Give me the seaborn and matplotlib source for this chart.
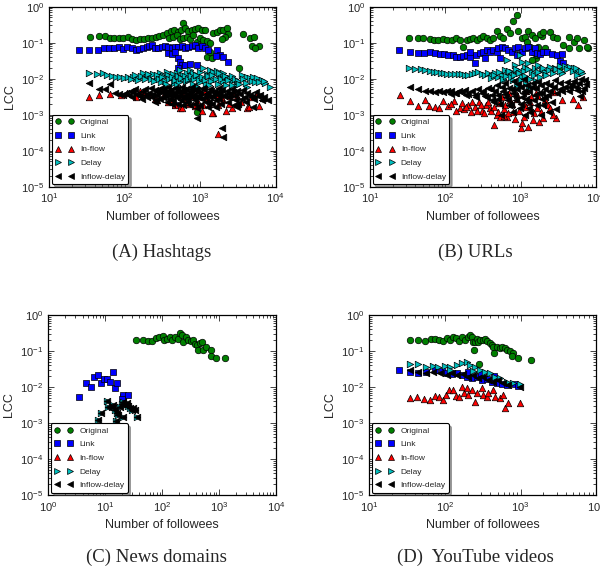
import matplotlib
matplotlib.use("Agg")
import pandas as pd
import seaborn as sns
import matplotlib.pyplot as plt
from matplotlib.lines import Line2D

sns.set_style("ticks")
plt.rcParams["font.family"] = ["Liberation Sans", "DejaVu Sans"]
plt.rcParams["mathtext.fontset"] = "cm"
plt.rcParams["mathtext.default"] = "rm"

#DATA (followees, LCC)
models = ["Original", "Link", "In-flow", "Delay", "Inflow-delay"]
captions = ["(A) Hashtags", "(B) URLs", "(C) News domains", "(D)  YouTube videos"]

#(A) Hashtags
hashtags_original = [(35, 0.144), (45, 0.150), (55, 0.153), (64, 0.132), (73, 0.132), (84, 0.132), (96, 0.132),
    (112, 0.141), (124, 0.127), (141, 0.119), (160, 0.124), (182, 0.127), (206, 0.132), (228, 0.138), (260, 0.147),
    (288, 0.157), (325, 0.164), (360, 0.182), (407, 0.211), (451, 0.225), (505, 0.202), (558, 0.225), (588, 0.345),
    (631, 0.251), (699, 0.211), (773, 0.225), (856, 0.240), (948, 0.262), (1050, 0.225), (1162, 0.225), (391, 0.132),
    (442, 0.147), (489, 0.164), (542, 0.127), (600, 0.138), (664, 0.147), (735, 0.127), (813, 0.164), (901, 0.107),
    (1000, 0.132), (1105, 0.119), (1223, 0.111), (1354, 0.096), (1500, 0.182), (1661, 0.202), (1838, 0.225),
    (2034, 0.225), (2250, 0.251), (2370, 0.171), (2140, 0.147), (1933, 0.127), (1223, 0.041), (1426, 0.037),
    (1354, 0.056), (3300, 0.020), (3670, 0.171), (4500, 0.138), (5190, 0.147), (4830, 0.083), (6100, 0.083),
    (5350, 0.070), (900, 0.00116)]
hashtags_link = [(25, 0.0626), (34, 0.0626), (44, 0.064), (53, 0.0697), (62, 0.0697), (73, 0.0697), (85, 0.0743),
    (96, 0.0655), (108, 0.0743), (124, 0.0697), (141, 0.064), (156, 0.0655), (177, 0.0697), (196, 0.0743),
    (212, 0.0827), (228, 0.0863), (252, 0.0727), (279, 0.0697), (309, 0.0743), (343, 0.0827), (379, 0.0776),
    (420, 0.0697), (465, 0.0776), (515, 0.0743), (570, 0.0827), (631, 0.0697), (698, 0.0743), (773, 0.0827),
    (855, 0.0863), (948, 0.0697), (1050, 0.0827), (1161, 0.0697), (1285, 0.064), (379, 0.0507), (420, 0.0475),
    (465, 0.054), (515, 0.0368), (541, 0.0297), (570, 0.024), (631, 0.024), (735, 0.0251), (901, 0.024),
    (515, 0.0194), (1660, 0.0626), (1837, 0.0455), (2033, 0.041), (2370, 0.0297), (1625, 0.0436), (465, 0.0018)]
hashtags_inflow = [(34, 0.0030), (45, 0.0035), (64, 0.0037), (88, 0.0035), (106, 0.0039), (160, 0.0044),
    (217, 0.0035), (294, 0.0049), (325, 0.0032), (399, 0.0039), (542, 0.0015), (600, 0.0035), (735, 0.0032),
    (948, 0.0049), (1223, 0.0029), (1500, 0.0011), (1660, 0.0035), (2034, 0.0026), (2624, 0.0015), (3055, 0.0032),
    (4150, 0.0015), (5625, 0.0039), (6890, 0.0029), (1745, 0.00029), (465, 0.0018), (575, 0.0015), (1440, 0.0011),
    (4370, 0.0016), (250, 0.0028), (700, 0.0020), (1100, 0.0018), (900, 0.0025), (380, 0.0023), (2400, 0.0020),
    (140, 0.0030), (180, 0.0040), (270, 0.0025), (350, 0.0042), (430, 0.0026), (520, 0.0047), (650, 0.0022),
    (780, 0.0038), (850, 0.0017), (1000, 0.0033), (1150, 0.0042), (1300, 0.0020), (1900, 0.0030), (2200, 0.0013),
    (2800, 0.0040), (3500, 0.0022), (4700, 0.0030), (6000, 0.0017), (1050, 0.0013), (600, 0.0028), (1700, 0.0018),
    (2500, 0.0033)]
hashtags_delay = [(34, 0.0141), (42.5, 0.0132), (51, 0.0141), (59, 0.0127), (67, 0.0119), (77, 0.0114), (87, 0.0109),
    (98, 0.0102), (112, 0.0109), (128, 0.0114), (141, 0.0107), (156, 0.0102), (177, 0.0141), (196, 0.0114),
    (217, 0.0127), (240, 0.0132), (266, 0.0114), (294, 0.0141), (325, 0.0121), (360, 0.0150), (399, 0.0114),
    (442, 0.0132), (489, 0.0141), (542, 0.0175), (600, 0.0127), (664, 0.0141), (735, 0.0175), (813, 0.0141),
    (901, 0.0114), (998, 0.0157), (1105, 0.0194), (1223, 0.0132), (1354, 0.0175), (1500, 0.0150), (1660, 0.0164),
    (1838, 0.0121), (2034, 0.0141), (2250, 0.0114), (2493, 0.0102), (2760, 0.0092), (3055, 0.0083), (3560, 0.0127),
    (4150, 0.0114), (4590, 0.0107), (5080, 0.0114), (5625, 0.0102), (6560, 0.0092), (7260, 0.0074), (8460, 0.0060),
    (2624, 0.0067), (3055, 0.0067), (4150, 0.0060), (300, 0.0080), (450, 0.0075), (700, 0.0090), (1000, 0.0080),
    (1500, 0.0090), (2000, 0.0085), (600, 0.0095), (1200, 0.0070),
    (120, 0.0095), (135, 0.0125), (150, 0.0090), (165, 0.0118), (185, 0.0098), (205, 0.0135), (225, 0.0100),
    (245, 0.0088), (270, 0.0128), (285, 0.0095), (310, 0.0108), (340, 0.0085), (370, 0.0125), (390, 0.0095),
    (420, 0.0110), (470, 0.0090), (510, 0.0120), (530, 0.0080), (560, 0.0105), (620, 0.0115), (650, 0.0085),
    (690, 0.0100), (760, 0.0120), (840, 0.0095), (880, 0.0130), (950, 0.0090), (1050, 0.0110), (1150, 0.0092),
    (1280, 0.0115), (1400, 0.0085), (1450, 0.0125), (1600, 0.0098), (1750, 0.0140), (1900, 0.0100), (2100, 0.0115),
    (2300, 0.0090), (2600, 0.0118), (2900, 0.0100), (3200, 0.0088), (3700, 0.0100), (4000, 0.0078), (4800, 0.0088),
    (5400, 0.0080), (6000, 0.0082), (7000, 0.0085), (800, 0.0070), (1300, 0.0065), (1700, 0.0072), (2200, 0.0068),
    (3300, 0.0070), (500, 0.0065), (350, 0.0072), (900, 0.0060)]
hashtags_inflow_delay = [(34, 0.0074), (45, 0.0052), (55, 0.0050), (64, 0.0070), (75, 0.0040), (85, 0.0038),
    (95, 0.0036), (105, 0.0040), (115, 0.0034), (130, 0.0042), (145, 0.0038), (160, 0.0032), (175, 0.0045),
    (190, 0.0036), (210, 0.0040), (230, 0.0030), (250, 0.0048), (270, 0.0035), (290, 0.0027), (310, 0.0042),
    (330, 0.0050), (350, 0.0033), (380, 0.0045), (400, 0.0028), (430, 0.0038), (460, 0.0055), (490, 0.0030),
    (520, 0.0042), (550, 0.0025), (590, 0.0048), (630, 0.0033), (670, 0.0022), (710, 0.0040), (760, 0.0050),
    (800, 0.0030), (860, 0.0020), (910, 0.0045), (970, 0.0035), (1050, 0.0028), (1120, 0.0050), (1200, 0.0038),
    (1300, 0.0023), (1400, 0.0045), (1500, 0.0032), (1650, 0.0040), (1800, 0.0027), (1950, 0.0048), (2150, 0.0035),
    (2400, 0.0030), (2700, 0.0042), (3000, 0.0025), (3400, 0.0038), (3900, 0.0030), (4500, 0.0035), (5100, 0.0028),
    (5800, 0.0032), (6600, 0.0025), (7900, 0.0026), (910, 0.00081), (1950, 0.00043), (2000, 0.00024),
    (5000, 0.0016), (3090, 0.0016), (600, 0.0018), (1250, 0.0016), (420, 0.0020), (250, 0.0022),
    (120, 0.0045), (125, 0.0030), (138, 0.0052), (150, 0.0035), (168, 0.0028), (185, 0.0050), (200, 0.0030),
    (220, 0.0055), (240, 0.0038), (260, 0.0025), (280, 0.0045), (300, 0.0055), (320, 0.0030), (340, 0.0040),
    (360, 0.0022), (370, 0.0058), (390, 0.0035), (410, 0.0048), (440, 0.0026), (450, 0.0040), (470, 0.0032),
    (500, 0.0050), (510, 0.0020), (540, 0.0036), (570, 0.0058), (600, 0.0030), (610, 0.0042), (650, 0.0052),
    (680, 0.0028), (700, 0.0036), (730, 0.0018), (750, 0.0045), (780, 0.0060), (820, 0.0035), (850, 0.0026),
    (880, 0.0050), (940, 0.0030), (1000, 0.0042), (1000, 0.0019), (1080, 0.0055), (1150, 0.0030), (1180, 0.0022),
    (1250, 0.0040), (1350, 0.0050), (1350, 0.0030), (1450, 0.0020), (1550, 0.0045), (1600, 0.0025), (1700, 0.0035),
    (1750, 0.0055), (1850, 0.0040), (1900, 0.0020), (2050, 0.0032), (2250, 0.0045), (2300, 0.0022), (2500, 0.0038),
    (2600, 0.0050), (2850, 0.0032), (3100, 0.0045), (3200, 0.0020), (3600, 0.0028), (3700, 0.0048), (4200, 0.0040),
    (4800, 0.0030), (5500, 0.0042), (6200, 0.0035), (7000, 0.0030), (4000, 0.0022), (2800, 0.0018), (900, 0.0015),
    (1600, 0.0016)]

#(B) URLs
urls_original = [(33, 0.132), (43, 0.132), (51, 0.138), (62, 0.127), (71, 0.121), (81, 0.121), (93, 0.127),
    (107, 0.121), (122, 0.121), (139, 0.132), (157, 0.121), (174, 0.078), (193, 0.119), (214, 0.127), (237, 0.132),
    (262, 0.121), (290, 0.132), (321, 0.157), (356, 0.132), (394, 0.121), (436, 0.132), (483, 0.211), (535, 0.157),
    (593, 0.132), (656, 0.240), (727, 0.182), (805, 0.409), (892, 0.587), (939, 0.211), (1040, 0.132), (1152, 0.147),
    (1275, 0.211), (1412, 0.164), (1564, 0.132), (1731, 0.078), (1918, 0.157), (2124, 0.073), (1212, 0.107),
    (1342, 0.078), (1486, 0.056), (1597, 0.037), (1645, 0.046), (1822, 0.171), (2018, 0.203), (2475, 0.203),
    (2687, 0.147), (3036, 0.132), (3725, 0.086), (4477, 0.141), (5166, 0.107), (5600, 0.132), (7015, 0.119),
    (8005, 0.070), (4477, 0.073), (6076, 0.070), (7609, 0.076), (3297, 0.020), (1412, 0.033)]
urls_link = [(24, 0.0626), (34, 0.054), (43, 0.0507), (52, 0.0507), (63, 0.054), (73, 0.0507), (85, 0.0475),
    (96, 0.0475), (110, 0.0455), (126, 0.0455), (139, 0.041), (157, 0.041), (174, 0.043), (193, 0.0455),
    (214, 0.041), (249, 0.0267), (257, 0.0455), (290, 0.0507), (321, 0.0564), (356, 0.0626), (394, 0.0564),
    (436, 0.0626), (483, 0.0564), (535, 0.0368), (509, 0.0697), (564, 0.0776), (624, 0.0727), (691, 0.0626),
    (766, 0.0564), (848, 0.0697), (939, 0.0776), (1040, 0.0564), (1152, 0.0697), (1275, 0.0776), (1412, 0.0564),
    (1564, 0.0697), (1645, 0.0507), (1822, 0.0475), (2018, 0.0564), (2234, 0.0564), (2606, 0.0475), (3036, 0.0455),
    (3541, 0.0475), (214, 0.0564), (338, 0.0384), (892, 0.0455), (3365, 0.031), (3725, 0.0267)]
urls_inflow = [(25, 0.0034), (34, 0.0024), (43, 0.0017), (53, 0.0026), (61, 0.0017), (73, 0.0016), (83, 0.0015),
    (94, 0.0024), (110, 0.0017), (131, 0.0024), (155, 0.0015), (179, 0.0014), (200, 0.0018), (220, 0.0012),
    (250, 0.0016), (280, 0.0022), (310, 0.0013), (350, 0.0019), (390, 0.0015), (447, 0.00051), (480, 0.00096),
    (520, 0.0021), (560, 0.0030), (600, 0.0014), (660, 0.00088), (720, 0.0025), (800, 0.0012), (900, 0.0035),
    (1000, 0.00042), (1050, 0.00058), (1100, 0.0020), (1260, 0.00046), (1400, 0.0030), (1500, 0.0011),
    (1780, 0.00063), (2000, 0.00079), (2300, 0.0018), (2750, 0.0043), (3000, 0.00079), (3540, 0.0026),
    (5000, 0.0028), (5900, 0.0018), (6700, 0.0030), (700, 0.0040), (1200, 0.0045), (1600, 0.0040),
    (120, 0.0020), (140, 0.0013), (165, 0.0021), (190, 0.0016), (230, 0.0022), (265, 0.0013), (300, 0.0018),
    (330, 0.0011), (370, 0.0022), (410, 0.0013), (440, 0.0016), (500, 0.0012), (540, 0.00085), (620, 0.0018),
    (680, 0.0011), (760, 0.0020), (850, 0.00075), (950, 0.0013), (1100, 0.00085), (1200, 0.0016), (1350, 0.0022),
    (1450, 0.00070), (1650, 0.0015), (1900, 0.0012), (2100, 0.0025), (2500, 0.0015), (2700, 0.00095), (900, 0.0028),
    (1700, 0.0033), (600, 0.0009)]
urls_delay = [(33, 0.0194), (40, 0.0186), (47, 0.0186), (54, 0.0175), (62, 0.0164), (70, 0.0157), (77, 0.0157),
    (87, 0.0147), (96, 0.0141), (107, 0.0135), (118, 0.0135), (135, 0.0135), (150, 0.0132), (166, 0.0132),
    (183, 0.0127), (203, 0.0127), (225, 0.0135), (249, 0.0141), (276, 0.0157), (305, 0.0132), (338, 0.0127),
    (375, 0.0141), (415, 0.0119), (460, 0.0141), (509, 0.0114), (564, 0.0127), (624, 0.0175), (691, 0.0141),
    (766, 0.0157), (848, 0.024), (939, 0.0175), (1040, 0.0297), (1152, 0.0216), (1275, 0.0267), (1412, 0.0157),
    (1564, 0.0194), (1731, 0.024), (1918, 0.0175), (2124, 0.0157), (2475, 0.0216), (2885, 0.0202), (3365, 0.023),
    (3916, 0.0225), (4571, 0.0216), (5166, 0.0202), (5890, 0.0175), (6530, 0.0141), (3541, 0.0141), (5600, 0.0127),
    (593, 0.0092), (805, 0.0092), (1040, 0.0114), (656, 0.0331), (988, 0.0455),
    (400, 0.0105), (450, 0.0125), (520, 0.0150), (580, 0.0100), (650, 0.0120), (700, 0.0160), (750, 0.0110),
    (820, 0.0130), (870, 0.0180), (950, 0.0140), (1000, 0.0090), (1100, 0.0160), (1150, 0.0120), (1200, 0.0070),
    (1250, 0.0190), (1350, 0.0100), (1400, 0.0060), (1500, 0.0130), (1600, 0.0085), (1700, 0.0150), (1800, 0.0110),
    (2000, 0.0200), (2200, 0.0130), (2400, 0.0170), (2700, 0.0140), (3000, 0.0180), (3300, 0.0160), (4200, 0.0180),
    (5000, 0.0160), (5500, 0.0200), (6300, 0.0160), (1300, 0.0050), (900, 0.0065)]
urls_inflow_delay = [(34, 0.0057), (44, 0.0050), (54, 0.0046), (62, 0.0044), (72, 0.0043), (82, 0.0044),
    (93, 0.0042), (105, 0.0044), (118, 0.0046), (133, 0.0040), (150, 0.0045), (166, 0.0042), (183, 0.0048),
    (203, 0.0038), (225, 0.0044), (250, 0.0036), (275, 0.0050), (305, 0.0040), (338, 0.0032), (375, 0.0055),
    (415, 0.0035), (460, 0.0045), (509, 0.0028), (564, 0.0060), (624, 0.0038), (690, 0.0025), (766, 0.0052),
    (848, 0.0033), (939, 0.0070), (1040, 0.0030), (1150, 0.0045), (1275, 0.0022), (1410, 0.0058), (1560, 0.0035),
    (1730, 0.0080), (1920, 0.0040), (2120, 0.0030), (2470, 0.0065), (2880, 0.0090), (3000, 0.0014), (3370, 0.0050),
    (3900, 0.0060), (4560, 0.0060), (5170, 0.0085), (5600, 0.0048), (6300, 0.0095), (6970, 0.0054), (7500, 0.0070),
    (700, 0.0018), (1000, 0.0020), (1300, 0.0015), (450, 0.0022), (2000, 0.0018), (6200, 0.0032),
    (320, 0.0045), (360, 0.0030), (400, 0.0050), (420, 0.0025), (480, 0.0065), (500, 0.0035), (540, 0.0020),
    (580, 0.0045), (620, 0.0075), (650, 0.0030), (700, 0.0055), (740, 0.0018), (800, 0.0040), (820, 0.0085),
    (870, 0.0025), (900, 0.0050), (980, 0.0015), (1000, 0.0060), (1080, 0.0040), (1100, 0.0095), (1180, 0.0028),
    (1220, 0.0065), (1300, 0.0045), (1350, 0.0012), (1450, 0.0075), (1500, 0.0025), (1600, 0.0055), (1650, 0.0018),
    (1750, 0.0040), (1850, 0.0065), (1950, 0.0028), (2100, 0.0050), (2200, 0.0075), (2300, 0.0035), (2500, 0.0045),
    (2600, 0.0022), (2750, 0.0060), (3100, 0.0040), (3300, 0.0075), (3600, 0.0045), (4100, 0.0080), (4400, 0.0045),
    (4900, 0.0070), (5400, 0.0060), (6000, 0.0075), (6600, 0.0045), (7200, 0.0090), (550, 0.0010), (1150, 0.0010),
    (800, 0.0012), (2400, 0.0012), (1900, 0.00095), (260, 0.0030), (190, 0.0035), (140, 0.0040), (120, 0.0038)]

#(C) News domains
news_original = [(34.7, 0.202), (45.4, 0.202), (55.6, 0.19), (65.4, 0.194), (78, 0.225), (89, 0.25), (102, 0.261),
    (108, 0.202), (120, 0.211), (137, 0.24), (151, 0.202), (168, 0.25), (192, 0.216), (206, 0.31), (220, 0.278),
    (235, 0.182), (259, 0.24), (288, 0.202), (317, 0.19), (353, 0.202), (378, 0.156), (404, 0.147), (432, 0.107),
    (462, 0.163), (494, 0.182), (529, 0.107), (589, 0.132), (711, 0.107), (711, 0.0726), (883, 0.0653),
    (1288, 0.0653)]
news_link = [(3.5, 0.00516), (4.6, 0.0126), (5.55, 0.0102), (6.4, 0.0194), (7.6, 0.0216), (8.6, 0.0126),
    (9.5, 0.0167), (10.6, 0.0163), (12.1, 0.0141), (13.5, 0.0267), (14.8, 0.0092), (15.9, 0.0132), (20.2, 0.0054),
    (20.8, 0.006), (25.5, 0.006), (19.4, 0.0045)]
news_inflow = []
news_inflow_delay = [(7.6, 0.00121), (8.4, 0.00186), (10.6, 0.00417), (11.3, 0.00284), (13, 0.00272),
    (13.9, 0.00316), (14.8, 0.0023), (15.9, 0.00186), (17, 0.00167), (18.2, 0.00284), (19.4, 0.00337),
    (20.8, 0.0039), (22.2, 0.00316), (23.8, 0.00352), (25.5, 0.00296), (27.2, 0.00255), (29.1, 0.0023),
    (31.1, 0.00255), (33.3, 0.0023), (35.6, 0.0015), (15.5, 0.00116), (20.2, 0.0015)]
# Delay markers sit exactly under the Inflow-delay ones in this panel
news_delay = list(news_inflow_delay)

#(D) YouTube videos
youtube_original = [(34.5, 0.202), (44.5, 0.202), (54.5, 0.19), (65, 0.211), (74, 0.211), (84, 0.202), (95, 0.19),
    (105, 0.235), (117, 0.202), (127, 0.25), (140, 0.225), (155, 0.19), (167, 0.25), (185, 0.202), (204, 0.24),
    (215, 0.278), (226, 0.25), (238, 0.182), (250, 0.182), (263, 0.211), (277, 0.182), (291, 0.202), (322, 0.202),
    (339, 0.211), (357, 0.19), (396, 0.170), (416, 0.147), (438, 0.132), (484, 0.132), (536, 0.119), (570, 0.132),
    (624, 0.119), (657, 0.107), (727, 0.10), (805, 0.09), (765, 0.0726), (937, 0.0653), (1365, 0.0562),
    (245, 0.107), (447, 0.09), (280, 0.043)]
youtube_link = [(24.4, 0.0297), (34.5, 0.0267), (44.5, 0.025), (57, 0.0267), (74, 0.0297), (91, 0.0284),
    (105, 0.025), (123, 0.0225), (143, 0.024), (167, 0.0216), (194, 0.0194), (226, 0.0174), (263, 0.0194),
    (307, 0.0156), (357, 0.0163), (416, 0.0141), (484, 0.0126), (564, 0.0121), (657, 0.0114), (847, 0.0119),
    (937, 0.0107), (200, 0.0267), (300, 0.024), (450, 0.020)]
youtube_inflow = [(34.5, 0.00484), (43, 0.00516), (53.4, 0.00464), (63.5, 0.00435), (74, 0.00562), (84, 0.00516),
    (95, 0.00435), (103.5, 0.006), (114.6, 0.00826), (129, 0.00826), (140, 0.00562), (155, 0.00539), (167, 0.0098),
    (179, 0.00667), (194, 0.0092), (204, 0.006), (226, 0.00826), (250, 0.0039), (263, 0.00667), (307, 0.0092),
    (322, 0.006), (357, 0.00516), (376, 0.00667), (438, 0.00826), (460, 0.00516), (536, 0.00484), (580, 0.006),
    (624, 0.00255), (690, 0.00352), (986, 0.00367)]
youtube_delay = [(34.5, 0.0426), (44.5, 0.0426), (57, 0.0367), (70, 0.038), (82, 0.035), (100, 0.038), (117, 0.035),
    (143, 0.041), (167, 0.0454), (194, 0.0506), (215, 0.041), (250, 0.0367), (291, 0.0297), (339, 0.0267),
    (396, 0.024), (460, 0.0194), (536, 0.0174), (657, 0.0141), (805, 0.0126), (986, 0.0121), (117, 0.0297),
    (238, 0.0284)]
youtube_inflow_delay = [(34.5, 0.0297), (44.5, 0.0267), (57, 0.024), (70, 0.0267), (86, 0.024), (105, 0.0216),
    (123, 0.024), (143, 0.0216), (175, 0.0225), (204, 0.0194), (238, 0.0216), (277, 0.0174), (322, 0.0194),
    (376, 0.0156), (438, 0.0141), (509, 0.0156), (593, 0.0126), (690, 0.0114), (986, 0.0101)]

#STYLE
palette = {"Original": "#008000", "Link": "#0000ff", "In-flow": "#ff0000", "Delay": "#00bfbf", "Inflow-delay": "#000000"}
markers = {"Original": "o", "Link": "s", "In-flow": "^", "Delay": ">", "Inflow-delay": "<"}

panels = [
    ([hashtags_original, hashtags_link, hashtags_inflow, hashtags_delay, hashtags_inflow_delay],
     (10, 1e4), [0.082, 0.676, 0.3775, 0.3125], (0.27, 0.5625)),
    ([urls_original, urls_link, urls_inflow, urls_delay, urls_inflow_delay],
     (10, 1e4), [0.6167, 0.676, 0.3762, 0.3125], (0.793, 0.5625)),
    ([news_original, news_link, news_inflow, news_delay, news_inflow_delay],
     (1, 1e4), [0.0805, 0.1406, 0.3795, 0.3125], (0.26, 0.033)),
    ([youtube_original, youtube_link, youtube_inflow, youtube_delay, youtube_inflow_delay],
     (10, 1e4), [0.6155, 0.1406, 0.378, 0.3125], (0.793, 0.033)),
]

def build_frame(series_list):
    rows = []
    for model, series in zip(models, series_list):
        for x, y in series:
            rows.append({"followees": x, "lcc": y, "model": model})
    return pd.DataFrame(rows, columns=["followees", "lcc", "model"])

fig = plt.figure(figsize=(6, 5.76), dpi=100)

for (series_list, xlim, rect, cap_pos), caption in zip(panels, captions):
    ax = fig.add_axes(rect)
    df = build_frame(series_list)
    for model in models:
        sub = df[df["model"] == model]
        if len(sub) == 0:
            continue
        sns.scatterplot(data=sub, x="followees", y="lcc", marker=markers[model], color=palette[model],
                        edgecolor="k", linewidth=0.5, s=22, ax=ax, legend=False, zorder=3)
    ax.set_xscale("log")
    ax.set_yscale("log")
    ax.set_xlim(*xlim)
    ax.set_ylim(1e-5, 1)
    ax.set_xlabel("Number of followees", fontsize=9)
    ax.set_ylabel("LCC", fontsize=9)
    ax.tick_params(which="both", direction="in", top=True, right=True, labelsize=8, width=0.6)
    ax.tick_params(which="major", length=4)
    ax.tick_params(which="minor", length=2)
    for sp in ax.spines.values():
        sp.set_linewidth(0.9)
        sp.set_color("k")

    handles = [Line2D([], [], marker=markers[m], color=palette[m], markeredgecolor="k", markeredgewidth=0.5,
                      linestyle="none", markersize=4) for m in models]
    leg = ax.legend(handles, models, loc="lower left", numpoints=2, fontsize=6, fancybox=True, shadow=True,
                    framealpha=1, edgecolor="k", borderaxespad=0.3, handlelength=2.2, labelspacing=0.7)
    leg.get_frame().set_linewidth(0.8)

    fig.text(cap_pos[0], cap_pos[1], caption, ha="center", va="center", fontsize=13.5,
             family=["Liberation Serif", "DejaVu Serif"])

fig.savefig("out.png", dpi=100)
